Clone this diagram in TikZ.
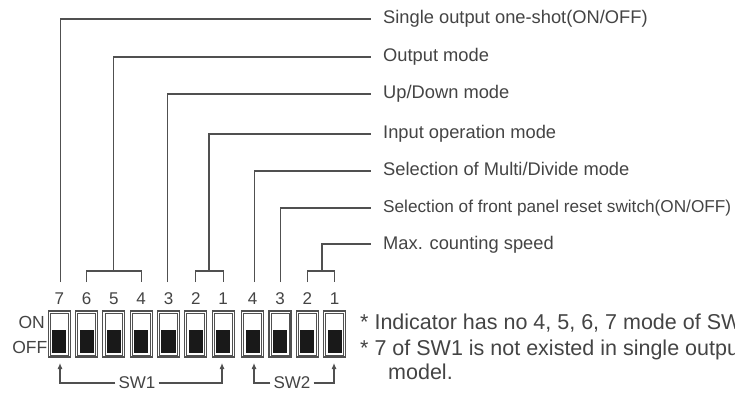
\documentclass[tikz,border=0pt]{standalone}
\usepackage{fontspec}
\setmainfont{Liberation Sans}
\usetikzlibrary{arrows.meta}
\definecolor{ink}{RGB}{80,80,80}
\definecolor{txt}{RGB}{68,68,68}
\begin{document}
\begin{tikzpicture}[x=1pt,y=-1pt,
  wire/.style={draw=ink,line width=1.1pt},
  arr/.style={wire,-{Latex[length=6pt,width=5pt]}},
  lab/.style={anchor=base west,inner sep=0pt,text=txt,font=\fontsize{18.3}{20}\selectfont},
  labs/.style={lab,font=\fontsize{17.2}{19}\selectfont},
  num/.style={inner sep=0pt,text=txt,font=\fontsize{17}{19}\selectfont},
  swlab/.style={inner sep=3pt,text=txt,font=\fontsize{17}{19}\selectfont},
  onoff/.style={anchor=base east,inner sep=0pt,text=txt,font=\fontsize{17.5}{19}\selectfont},
  note/.style={anchor=base west,inner sep=0pt,text=txt,font=\fontsize{21.5}{24}\selectfont},
  swbox/.style={draw=ink,line width=1.1pt,minimum width=22pt,minimum height=46pt,inner sep=0pt},
]
\useasboundingbox[fill=white] (0,0) rectangle (735,395);
\clip (0,0) rectangle (735,395);

% switches
\foreach \n/\cx in {a7/59.3,a6/86.6,a5/113.9,a4/141.2,a3/168.5,a2/195.8,a1/223.1,
                    b4/252.7,b3/280.0,b2/307.3,b1/334.6}{
  \node[swbox] (\n) at (\cx,334) {};
  \draw[ink,line width=0.9pt] ([shift={(2.6,2.6)}]\n.north west) rectangle ([shift={(-2.6,-2.6)}]\n.south east);
  \fill[black!90] ([shift={(4.5,20)}]\n.north west) rectangle ([shift={(-4.5,-4.5)}]\n.south east);
}

% numbers
\foreach \n/\cx/\d in {n7/59.3/7,n6/86.6/6,n5/113.9/5,n4/141.2/4,n3/168.5/3,n2/195.8/2,n1/223.1/1,
                    m4/252.7/4,m3/280.0/3,m2/307.3/2,m1/334.6/1}{
  \node[num] (\n) at (\cx,299) {\d};
}

% ON / OFF
\node[onoff] (on) at (45,328) {ON};
\node[onoff] (off) at (47.5,353) {OFF};

% labels
\node[lab]  (l1) at (383,24)  {Single output one-shot(ON/OFF)};
\node[lab]  (l2) at (383,62)  {Output mode};
\node[lab]  (l3) at (383,99)  {Up/Down mode};
\node[lab]  (l4) at (383,139) {Input operation mode};
\node[lab]  (l5) at (383,176) {Selection of Multi/Divide mode};
\node[labs] (l6) at (383,213) {Selection of front panel reset switch(ON/OFF)};
\node[lab]  (l7) at (383,249) {Max. counting speed};

% leader ends
\coordinate (e1) at (371,19);
\coordinate (e2) at (371,57);
\coordinate (e3) at (371,94);
\coordinate (e4) at (371,134);
\coordinate (e5) at (371,171);
\coordinate (e6) at (371,208);
\coordinate (e7) at (371,244);

% leaders
\coordinate (c7) at (60.5,282);
\draw[wire] (c7) |- (e1);
\coordinate (k6) at (86.6,282);
\coordinate (k4) at (141.2,282);
\coordinate (k5) at (113.5,271);
\draw[wire] (k6) |- (k5) -| (k4);
\draw[wire] (k5) |- (e2);
\coordinate (c3) at (167.7,282);
\draw[wire] (c3) |- (e3);
\coordinate (k2) at (195.8,282);
\coordinate (k1) at (223.1,282);
\coordinate (k21) at (209,271);
\draw[wire] (k2) |- (k21) -| (k1);
\draw[wire] (k21) |- (e4);
\coordinate (d4) at (254.5,282);
\draw[wire] (d4) |- (e5);
\coordinate (d3) at (280.7,282);
\draw[wire] (d3) |- (e6);
\coordinate (j2) at (307.3,282);
\coordinate (j1) at (334.6,282);
\coordinate (j21) at (322,271);
\draw[wire] (j2) |- (j21) -| (j1);
\draw[wire] (j21) |- (e7);

% SW1 / SW2
\node[swlab] (sw1) at (137,383) {SW1};
\node[swlab] (sw2) at (292,383) {SW2};
\coordinate (t7) at (60,363);
\coordinate (t1) at (222,363);
\coordinate (u4) at (254,363);
\coordinate (u1) at (334,363);
\draw[arr] (sw1.west) -| (t7);
\draw[arr] (sw1.east) -| (t1);
\draw[arr] (sw2.west) -| (u4);
\draw[arr] (sw2.east) -| (u1);

% notes (cut off at the right edge, as in the reference)
\node[note] (nt1) at (360,329.5) {* Indicator has no 4, 5, 6, 7 mode of SW1.};
\node[note] (nt2) at (360,355) {* 7 of SW1 is not existed in single output};
\node[note] (nt3) at (388,379.5) {model.};
\end{tikzpicture}
\end{document}
